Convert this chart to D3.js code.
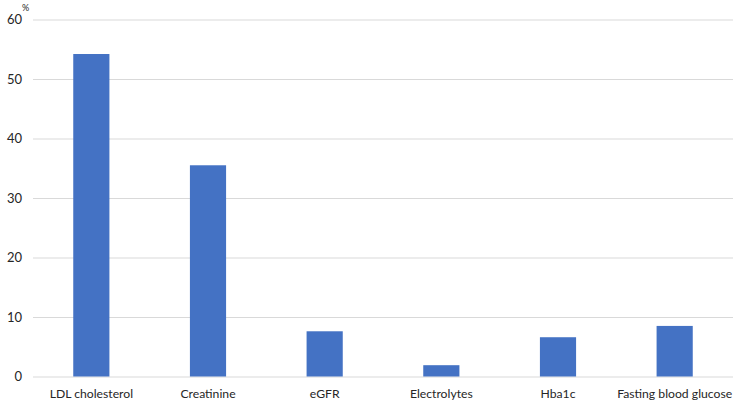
<!DOCTYPE html>
<html>
<head>
<meta charset="utf-8">
<script src="https://cdn.jsdelivr.net/npm/d3@7"></script>
<style>
  body { margin: 0; background: #fff; }
  svg { display: block; }
  .grid line { stroke: #d9d9d9; stroke-width: 1; }
  .grid path { display: none; }
  .axis path, .axis line { display: none; }
  .axis text { fill: #262626; font-size: 13px; font-family: Lato, "Open Sans", sans-serif; }
  .axis.x-axis text { font-size: 12.2px; }
</style>
</head>
<body>
<div id="chart"></div>
<script>
// Chart data
var categories = ["LDL cholesterol", "Creatinine", "eGFR", "Electrolytes", "Hba1c", "Fasting blood glucose"];
var values = [54.2, 35.5, 7.6, 1.9, 6.6, 8.5];
var yTicks = [0, 10, 20, 30, 40, 50, 60];

var width = 733, height = 409,
    margin = {top: 20, right: 0, bottom: 32, left: 33};

var svg = d3.select("#chart").append("svg")
    .attr("width", width)
    .attr("height", height);

var x = d3.scaleBand()
    .domain(categories)
    .range([margin.left, width - margin.right])
    .paddingInner(0.69)
    .paddingOuter(0.345);

var y = d3.scaleLinear()
    .domain([0, 60])
    .range([376.5, 19.5]);

// Gridlines
svg.append("g")
    .attr("class", "grid")
    .attr("transform", "translate(" + margin.left + ",0)")
    .call(d3.axisLeft(y).tickValues(yTicks).tickSize(-(width - margin.left - margin.right)).tickFormat(""));

// Y axis labels
svg.append("g")
    .attr("class", "axis")
    .attr("transform", "translate(" + (margin.left - 5) + ",0)")
    .call(d3.axisLeft(y).tickValues(yTicks).tickSize(0).tickPadding(6));

// Unit mark above the top tick
svg.append("text")
    .attr("x", 22)
    .attr("y", 11)
    .attr("font-size", 9)
    .attr("font-family", "Lato, sans-serif")
    .attr("fill", "#262626")
    .text("%");

// Bars
svg.append("g")
    .selectAll("rect")
    .data(values)
    .enter().append("rect")
    .attr("x", function(d, i) { return x(categories[i]); })
    .attr("y", function(d) { return y(d); })
    .attr("width", x.bandwidth())
    .attr("height", function(d) { return y(0) - y(d); })
    .attr("fill", "#4472c4");

// X axis labels
svg.append("g")
    .attr("class", "axis x-axis")
    .attr("transform", "translate(0," + y(0) + ")")
    .call(d3.axisBottom(x).tickSize(0).tickPadding(13));
</script>
</body>
</html>
